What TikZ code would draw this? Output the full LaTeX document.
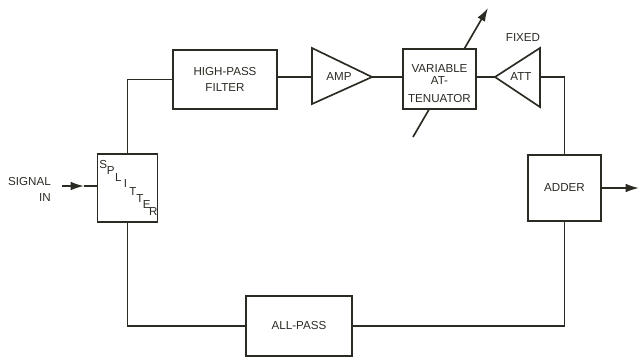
\documentclass[tikz,border=0pt]{standalone}
\usepackage{fontspec}
\setmainfont{Liberation Sans}
\usetikzlibrary{arrows.meta}
\definecolor{ink}{HTML}{2B2B24}
\begin{document}
\begin{tikzpicture}[x=0.75pt,y=-0.75pt,
  wire/.style={draw=ink,line width=1.25pt},
  blk/.style={draw=ink,line width=1.25pt,fill=white,inner sep=0pt,align=center,
    font=\fontsize{8.7}{11.7}\selectfont,text=ink},
  lbl/.style={inner sep=0pt,text=ink,font=\fontsize{8.7}{11.7}\selectfont},
  tip/.style={-{Latex[length=10pt,width=6.5pt]}}]
\useasboundingbox (0,0) rectangle (640,358);
% variable arrow (behind box)
\coordinate (varlo) at (413,137);
\coordinate (varhi) at (488,8);
\draw[wire,tip] (varlo) -- (varhi);
% blocks
\node[blk,minimum width=45pt,minimum height=51pt] (split) at (127.5,188) {};
\node[blk,minimum width=78pt,minimum height=44.25pt] (hpf) at (225,79.5) {HIGH-PASS\\FILTER};
\node[blk,minimum width=54.75pt,minimum height=45pt] (va) at (439.5,79) {};
\node[lbl,align=center,font=\fontsize{8.7}{9}\selectfont] (vatext) at (439.5,83.5) {VARIABLE\\AT-\\[4.5pt]TENUATOR};
\node[blk,minimum width=54.75pt,minimum height=49.5pt] (adder) at (564.5,188) {ADDER};
\node[blk,minimum width=79.5pt,minimum height=45pt] (ap) at (299,326) {ALL-PASS};
% amplifier triangle
\coordinate (ampin) at (312,77);
\coordinate (ampout) at (372,77);
\draw[wire,fill=white,line join=miter] (312,48) -- (ampout) -- (312,104) -- cycle;
\node[lbl] (amp) at (339,77) {AMP};
% fixed attenuator triangle
\coordinate (attin) at (540,77);
\coordinate (attout) at (495,77);
\draw[wire,fill=white,line join=miter] (540,48) -- (attout) -- (540,107) -- cycle;
\node[lbl] (att) at (521,77) {ATT};
\node[lbl] (fixed) at (523,38) {FIXED};
% splitter letters
\node[lbl] (s1) at (103.3,165) {S};
\node[lbl] (s2) at (110.7,170.7) {P};
\node[lbl] (s3) at (118.3,177.3) {L};
\node[lbl] (s4) at (125.5,183.3) {I};
\node[lbl] (s5) at (133,191.5) {T};
\node[lbl] (s6) at (140,198.3) {T};
\node[lbl] (s7) at (146.7,205) {E};
\node[lbl] (s8) at (153.3,211.7) {R};
% input label
\node[lbl,align=right,anchor=east] (sig) at (51,189.5) {SIGNAL\\IN};
% input arrow
\coordinate (inA) at (62,186);
\coordinate (inB) at (84,186);
\draw[wire,tip] (inA) -- (inB);
\draw[wire] (inB) -- (split.west |- inB);
% output arrow
\coordinate (out) at (639,188);
\draw[wire,tip] (adder.east) -- (out);
% connections
\draw[wire] (split.north) |- (hpf.west);
\draw[wire] (hpf.east |- ampin) -- (ampin);
\draw[wire] (ampout) -- (va.west |- ampout);
\draw[wire] (va.east |- attout) -- (attout);
\draw[wire] (attin) -| (adder.north);
\draw[wire] (split.south) |- (ap.west);
\draw[wire] (ap.east) -| (adder.south);
\end{tikzpicture}
\end{document}
